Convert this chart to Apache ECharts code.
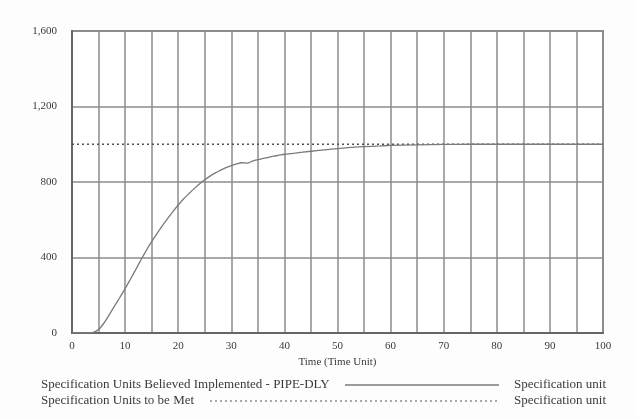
<!DOCTYPE html>
<html>
<head>
<meta charset="utf-8">
<script src="https://cdn.jsdelivr.net/npm/echarts@6/dist/echarts.min.js"></script>
<style>
  html, body { margin: 0; padding: 0; background: #fdfdfd; }
  #chart { width: 637px; height: 419px; }
</style>
</head>
<body>
<div id="chart"></div>
<script>
// simulated run
var times = [0, 1, 2, 3, 4, 5, 6, 7, 8, 9, 10, 11, 12, 13, 14, 15, 16, 17, 18, 19, 20,
  21, 22, 23, 24, 25, 26, 27, 28, 29, 30, 31, 32, 33, 34, 35, 36, 37, 38, 39, 40,
  42, 45, 48, 50, 52, 55, 58, 60, 65, 70, 75, 80, 85, 90, 95, 100]
var implemented = [0, 0, 0, 0, 3, 18, 52, 96, 142, 188, 235, 285, 336, 388, 438, 484, 527, 568, 606, 643, 678,
  710, 738, 765, 790, 812, 831, 848, 863, 876, 887, 896, 902, 900, 910, 918, 925, 931, 937, 942, 947,
  953, 963, 972, 977, 982, 987, 991, 994, 997, 999, 1000, 1000, 1000, 1000, 1000, 1000]
var metTimes = [0, 100]
var toBeMet = [1000, 1000]

var xTicks = [0, 10, 20, 30, 40, 50, 60, 70, 80, 90, 100]
var yTicks = [0, 400, 800, 1200, 1600]

var legendNames = ['Specification Units Believed Implemented - PIPE-DLY', 'Specification Units to be Met']
var legendUnit = 'Specification unit'

var font = 'Liberation Serif'
var txt = '#3a3a3a'
var gridGray = '#8c8c8c'

var chart = echarts.init(document.getElementById('chart'))
chart.setOption({
  backgroundColor: '#fdfdfd',
  animation: false,
  grid: {
    left: 72, right: 34, top: 31, bottom: 86,
    show: true, borderColor: '#8a8a8a', borderWidth: 2, backgroundColor: '#fff'
  },
  xAxis: {
    type: 'value', min: 0, max: 100, interval: 5,
    name: 'Time (Time Unit)', nameLocation: 'middle', nameGap: 24,
    nameTextStyle: { fontFamily: font, fontSize: 11, color: txt },
    axisLine: { lineStyle: { color: '#666', width: 2 } },
    axisTick: { show: false },
    axisLabel: {
      fontFamily: font, fontSize: 11, color: txt, margin: 8,
      formatter: function (v) { return xTicks.indexOf(v) >= 0 ? String(v) : '' }
    },
    splitLine: { lineStyle: { color: gridGray, width: 1.5 } }
  },
  yAxis: {
    type: 'value', min: 0, max: 1600, interval: 400,
    axisLine: { show: true, lineStyle: { color: '#666', width: 2 } },
    axisTick: { show: false },
    axisLabel: {
      fontFamily: font, fontSize: 11, color: txt, margin: 15,
      formatter: function (v) { return yTicks.indexOf(v) >= 0 ? v.toLocaleString('en-US') : '' }
    },
    splitLine: { lineStyle: { color: gridGray, width: 1.5 } }
  },
  series: [
    {
      name: legendNames[1],
      type: 'line',
      data: metTimes.map(function (t, i) { return [t, toBeMet[i]] }),
      showSymbol: false,
      lineStyle: { color: '#505050', width: 1.3, type: [2, 3] }
    },
    {
      name: legendNames[0],
      type: 'line',
      data: times.map(function (t, i) { return [t, implemented[i]] }),
      showSymbol: false,
      smooth: 0.3,
      lineStyle: { color: '#7a7a7a', width: 1.3 }
    }
  ],
  graphic: [
    { type: 'text', left: 41, top: 378, style: { text: legendNames[0], font: '13px ' + font, fill: txt } },
    { type: 'line', shape: { x1: 345, y1: 385, x2: 499, y2: 385 }, style: { stroke: '#7a7a7a', lineWidth: 1.3 } },
    { type: 'text', left: 514, top: 378, style: { text: legendUnit, font: '13px ' + font, fill: txt } },
    { type: 'text', left: 41, top: 394, style: { text: legendNames[1], font: '13px ' + font, fill: txt } },
    { type: 'line', shape: { x1: 210, y1: 401, x2: 499, y2: 401 }, style: { stroke: '#555', lineWidth: 1, lineDash: [2, 3] } },
    { type: 'text', left: 514, top: 394, style: { text: legendUnit, font: '13px ' + font, fill: txt } }
  ]
})
</script>
</body>
</html>
